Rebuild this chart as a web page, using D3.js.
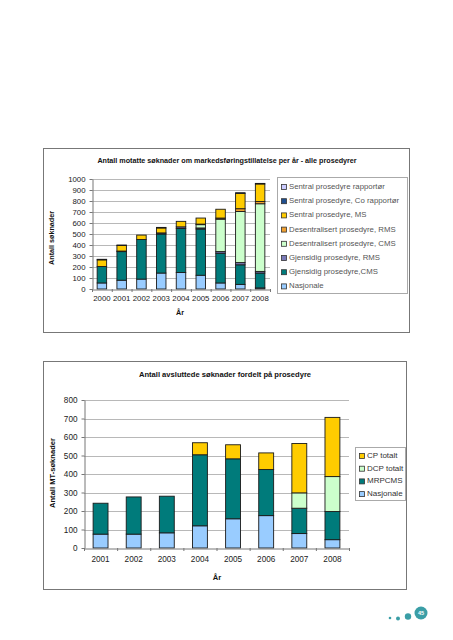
<!DOCTYPE html>
<html><head><meta charset="utf-8">
<script src="https://cdn.jsdelivr.net/npm/d3@7"></script>
<style>
html,body{margin:0;padding:0;background:#fff;}
svg{display:block;}
text{font-family:"Liberation Sans",Arial,sans-serif;}
</style></head>
<body>
<svg id="c" width="453" height="640"></svg>
<script>
// ---------- Chart 1 data ----------
const years1 = ["2000","2001","2002","2003","2004","2005","2006","2007","2008"];
const nasjonale1   = [55, 80, 90, 145, 150, 125, 55, 42, 10];
const gjensidigCMS = [150, 260, 360, 355, 400, 420, 270, 178, 135];
const gjensidigRMS = [0, 5, 0, 10, 15, 10, 15, 20, 15];
const desentralCMS = [0, 0, 0, 0, 0, 30, 295, 465, 615];
const desentralRMS = [0, 0, 0, 0, 0, 5, 10, 25, 20];
const sentralMS    = [60, 50, 40, 45, 50, 55, 80, 140, 160];
const sentralCo    = [5, 5, 0, 5, 0, 0, 0, 5, 5];
const sentralRapp  = [0, 0, 0, 0, 0, 0, 0, 0, 0];
const yTicks1 = [0,100,200,300,400,500,600,700,800,900,1000];
const series1Names = ["Nasjonale","Gjensidig prosedyre,CMS","Gjensidig prosedyre, RMS","Desentralisert prosedyre, CMS","Desentralisert prosedyre, RMS","Sentral prosedyre, MS","Sentral prosedyre, Co rapportør","Sentral prosedyre rapportør"];
const series1Colors = ["#99ccff","#007b7b","#7a7ab8","#ccffcc","#f0a030","#ffcc00","#1f4f8f","#ccccff"];

// ---------- Chart 2 data ----------
const years2 = ["2001","2002","2003","2004","2005","2006","2007","2008"];
const nasjonale2 = [75, 75, 82, 120, 158, 175, 78, 45];
const mrpcms     = [167, 201, 198, 384, 324, 249, 137, 152];
const dcpTotalt  = [0, 0, 0, 0, 0, 0, 83, 189];
const cpTotalt   = [0, 0, 0, 65, 76, 90, 267, 320];
const yTicks2 = [0,100,200,300,400,500,600,700,800];
const series2Names = ["Nasjonale","MRPCMS","DCP totalt","CP totalt"];
const series2Colors = ["#99ccff","#007b7b","#ccffcc","#ffcc00"];

const svg = d3.select("#c");

function drawChart(cfg){
  const g = svg.append("g");
  g.append("rect").attr("x",cfg.box[0]+0.5).attr("y",cfg.box[1]+0.5)
    .attr("width",cfg.box[2]-cfg.box[0]).attr("height",cfg.box[3]-cfg.box[1])
    .attr("fill","#fff").attr("stroke","#777").attr("stroke-width",1);
  const x = d3.scaleBand().domain(cfg.cats).range([cfg.plot[0],cfg.plot[1]]).paddingInner(cfg.pad).paddingOuter(cfg.pad/2);
  const y = d3.scaleLinear().domain([0,cfg.max]).range([cfg.plot[3],cfg.plot[2]]);
  g.append("g").selectAll("line").data(cfg.ticks.slice(1)).join("line")
    .attr("x1",cfg.plot[0]).attr("x2",cfg.plot[1])
    .attr("y1",d=>Math.round(y(d))+0.5).attr("y2",d=>Math.round(y(d))+0.5)
    .attr("stroke","#b8b8b8").attr("stroke-width",1);
  if(cfg.plotBorder){
    g.append("line").attr("x1",cfg.plot[1]+0.5).attr("x2",cfg.plot[1]+0.5)
      .attr("y1",cfg.plot[2]).attr("y2",cfg.plot[3]).attr("stroke","#b8b8b8");
  }
  const rows = cfg.cats.map((c,i)=>{const o={cat:c}; cfg.series.forEach((s,j)=>o["s"+j]=s[i]); return o;});
  const keys = cfg.series.map((s,j)=>"s"+j);
  const stack = d3.stack().keys(keys)(rows);
  stack.forEach((layer,j)=>{
    g.append("g").selectAll("rect").data(layer.filter(d=>d[1]-d[0]>0)).join("rect")
      .attr("x",d=>x(d.data.cat)).attr("width",x.bandwidth())
      .attr("y",d=>y(d[1])).attr("height",d=>y(d[0])-y(d[1]))
      .attr("fill",cfg.colors[j]).attr("stroke","#1a1a1a").attr("stroke-width",0.9);
  });
  const ya = d3.axisLeft(y).tickValues(cfg.ticks).tickFormat(d3.format("d")).tickSize(3).tickSizeOuter(0);
  const yg = g.append("g").attr("transform",`translate(${cfg.plot[0]+0.5},0)`).call(ya);
  yg.selectAll("text").attr("font-size",cfg.tickFont).attr("fill","#222").attr("dx","-1");
  yg.selectAll("line,path").attr("stroke","#777");
  const xa = d3.axisBottom(x).tickSize(0).tickSizeOuter(0);
  const xg = g.append("g").attr("transform",`translate(0,${cfg.plot[3]+0.5})`).call(xa);
  xg.selectAll("text").attr("font-size",cfg.tickFont).attr("fill","#222").attr("dy",cfg.xdy);
  xg.select("path").attr("stroke","#777");
  g.append("g").selectAll("line").data(cfg.cats.concat(["__end"])).join("line")
    .attr("x1",(d,i)=>cfg.plot[0]+i*x.step()+0.5).attr("x2",(d,i)=>cfg.plot[0]+i*x.step()+0.5)
    .attr("y1",cfg.plot[3]).attr("y2",cfg.plot[3]+3).attr("stroke","#777");
  g.append("text").attr("x",cfg.title[0]).attr("y",cfg.title[1]).attr("text-anchor","middle")
    .attr("font-size",cfg.titleFont).attr("font-weight","bold").attr("fill","#111").text(cfg.titleText);
  g.append("text").attr("transform",`translate(${cfg.ylab[0]},${cfg.ylab[1]}) rotate(-90)`)
    .attr("text-anchor","middle").attr("font-size",cfg.titleFont).attr("font-weight","bold").attr("fill","#111").text(cfg.ylabText);
  g.append("text").attr("x",cfg.xlab[0]).attr("y",cfg.xlab[1]).attr("text-anchor","middle")
    .attr("font-size",cfg.titleFont).attr("font-weight","bold").attr("fill","#111").text("År");
  const L = cfg.legend;
  g.append("rect").attr("x",L.x+0.5).attr("y",L.y+0.5).attr("width",L.w).attr("height",L.h)
    .attr("fill","#fff").attr("stroke","#aaa");
  const items = cfg.names.map((n,j)=>({n,c:cfg.colors[j]})).reverse();
  const li = g.append("g").selectAll("g").data(items).join("g")
    .attr("transform",(d,i)=>`translate(${L.x+4},${L.y0+i*L.dy})`);
  li.append("rect").attr("x",0.5).attr("y",-L.sq+0.5).attr("width",L.sq).attr("height",L.sq)
    .attr("fill",d=>d.c).attr("stroke","#333").attr("stroke-width",0.8);
  li.append("text").attr("x",L.sq+3).attr("y",0).attr("font-size",L.font).attr("fill",L.color).text(d=>d.n);
}

drawChart({
  box:[43,148,409,332], plot:[92,270,179,289], pad:0.52, max:1000, ticks:yTicks1,
  cats:years1, series:[nasjonale1,gjensidigCMS,gjensidigRMS,desentralCMS,desentralRMS,sentralMS,sentralCo,sentralRapp],
  colors:series1Colors, names:series1Names, tickFont:"7.8px", xdy:"1.05em",
  title:[227,163], titleText:"Antall motatte søknader om markedsføringstillatelse per år - alle prosedyrer", titleFont:"7.2px",
  ylab:[54,238], ylabText:"Antall søknader", xlab:[180,315],
  legend:{x:277,y:177,w:130,h:116,y0:189,dy:14.2,sq:5,font:"7.8px",color:"#555"}
});

drawChart({
  box:[43,361,406,589], plot:[84,349,400,548], pad:0.55, max:800, ticks:yTicks2,
  cats:years2, series:[nasjonale2,mrpcms,dcpTotalt,cpTotalt],
  colors:series2Colors, names:series2Names, tickFont:"8.2px", xdy:"1.3em",
  title:[225,377], titleText:"Antall avsluttede søknader fordelt på prosedyre", titleFont:"7.6px",
  ylab:[55,473], ylabText:"Antall MT-søknader", xlab:[217,580],
  legend:{x:355,y:447,w:50,h:53,y0:458,dy:12.7,sq:5,font:"8px",color:"#333"}
});

const dots = [[390,618,1.3],[398,618.5,2],[408,616.5,3.2]];
svg.append("g").selectAll("circle").data(dots).join("circle")
  .attr("cx",d=>d[0]).attr("cy",d=>d[1]).attr("r",d=>d[2]).attr("fill","#3a9ea6");
svg.append("circle").attr("cx",421).attr("cy",613).attr("r",6.5).attr("fill","#3a9ea6");
svg.append("text").attr("x",421).attr("y",615).attr("text-anchor","middle").attr("font-size","5.5px")
  .attr("font-weight","bold").attr("fill","#fff").text("45");
</script>
</body></html>
